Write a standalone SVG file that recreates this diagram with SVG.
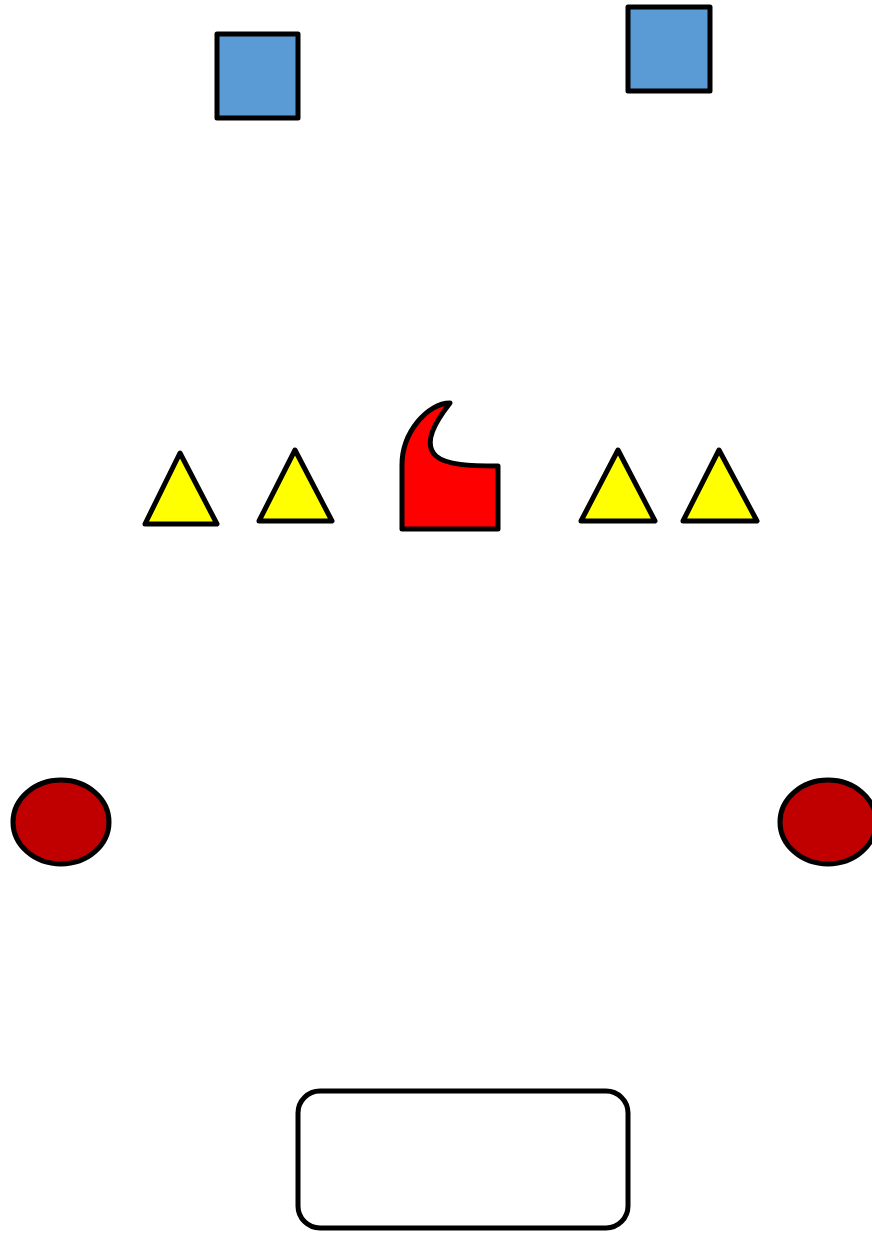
<svg xmlns="http://www.w3.org/2000/svg" width="872" height="1233" viewBox="0 0 872 1233">
<style>
.s{stroke:#000;stroke-width:5;stroke-linejoin:round}
.sq{fill:#5B9BD5}
.tr{fill:#FFFF00}
.el{fill:#C00000}
</style>
<rect width="872" height="1233" fill="#fff"/>
<g id="square1"><rect class="s sq" x="217" y="34" width="81" height="84"/></g>
<g id="square2"><rect class="s sq" x="628" y="7" width="82" height="84"/></g>
<g id="tri1"><polygon class="s tr" points="180,453 217,524 145,524"/></g>
<g id="tri2"><polygon class="s tr" points="295,450 332,521 259,521"/></g>
<g id="tri3"><polygon class="s tr" points="618,450 655,521 581,521"/></g>
<g id="tri4"><polygon class="s tr" points="719,450 757,521 683,521"/></g>
<g id="redshape"><path class="s" fill="#FF0000" d="M402,529 L402,465 C402,432 428,403 450,403 C436,421 422,443 436,456 C446,465 470,466 498,466 L498,529 Z"/></g>
<g id="ellipse1"><ellipse class="s el" cx="61" cy="822" rx="48" ry="42"/></g>
<g id="ellipse2"><ellipse class="s el" cx="828" cy="822" rx="48" ry="42"/></g>
<g id="roundrect"><rect class="s" fill="#fff" x="298" y="1091" width="330" height="137" rx="22"/></g>
<g id="connectors"></g>
</svg>
